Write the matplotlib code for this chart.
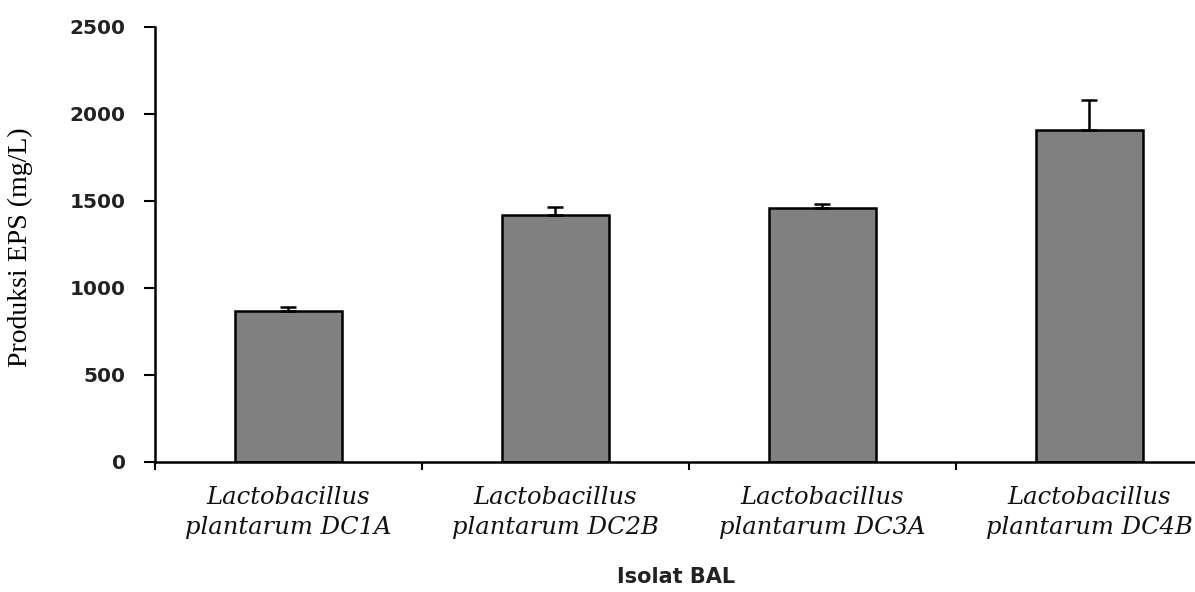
import matplotlib
matplotlib.use("Agg")
import matplotlib.pyplot as plt
import numpy as np

categories = ["Lactobacillus\nplantarum DC1A", "Lactobacillus\nplantarum DC2B",
              "Lactobacillus\nplantarum DC3A", "Lactobacillus\nplantarum DC4B"]
values = [870, 1420, 1460, 1910]
errors = [20, 45, 20, 170]
yticks = [0, 500, 1000, 1500, 2000, 2500]

fig = plt.figure(figsize=(11.95, 5.92), dpi=100)
ax = fig.add_axes([0.1297, 0.2196, 0.8937, 0.7348])

x = np.arange(len(categories))
ax.bar(x, values, width=0.4, color="#808080", edgecolor="black", linewidth=1.8, zorder=2)
ax.errorbar(x, values, yerr=[np.zeros(len(errors)), errors], fmt="none",
            ecolor="black", elinewidth=1.8, capsize=6, capthick=1.8, zorder=3)

ax.set_xlim(-0.5, 3.5)
ax.set_ylim(0, 2500)
ax.set_yticks(yticks)
ax.set_yticklabels([str(t) for t in yticks], fontsize=14.5, fontweight="bold",
                   family="DejaVu Sans", color="#222222")
ax.set_xticks(x)
ax.set_xticklabels(categories, fontsize=17.5, style="italic", family="DejaVu Serif",
                   linespacing=1.4, color="#111111")
ax.set_xticks(np.arange(-0.5, 3.6, 1.0), minor=True)
ax.tick_params(axis="x", which="major", length=0, pad=17)
ax.tick_params(axis="x", which="minor", length=6, width=1.5, direction="out")
ax.tick_params(axis="y", which="major", length=8, width=1.5, direction="out", pad=13)

for s in ["top", "right"]:
    ax.spines[s].set_visible(False)
for s in ["left", "bottom"]:
    ax.spines[s].set_linewidth(1.8)

fig.text(20 / 1195, 0.583, "Produksi EPS (mg/L)", fontsize=20, family="Liberation Serif",
         rotation=90, ha="center", va="center")
fig.text(0.566, 0.026, "Isolat BAL", fontsize=15, fontweight="bold", family="DejaVu Sans",
         ha="center", va="center", color="#222222")

fig.savefig("out.png", dpi=100)
